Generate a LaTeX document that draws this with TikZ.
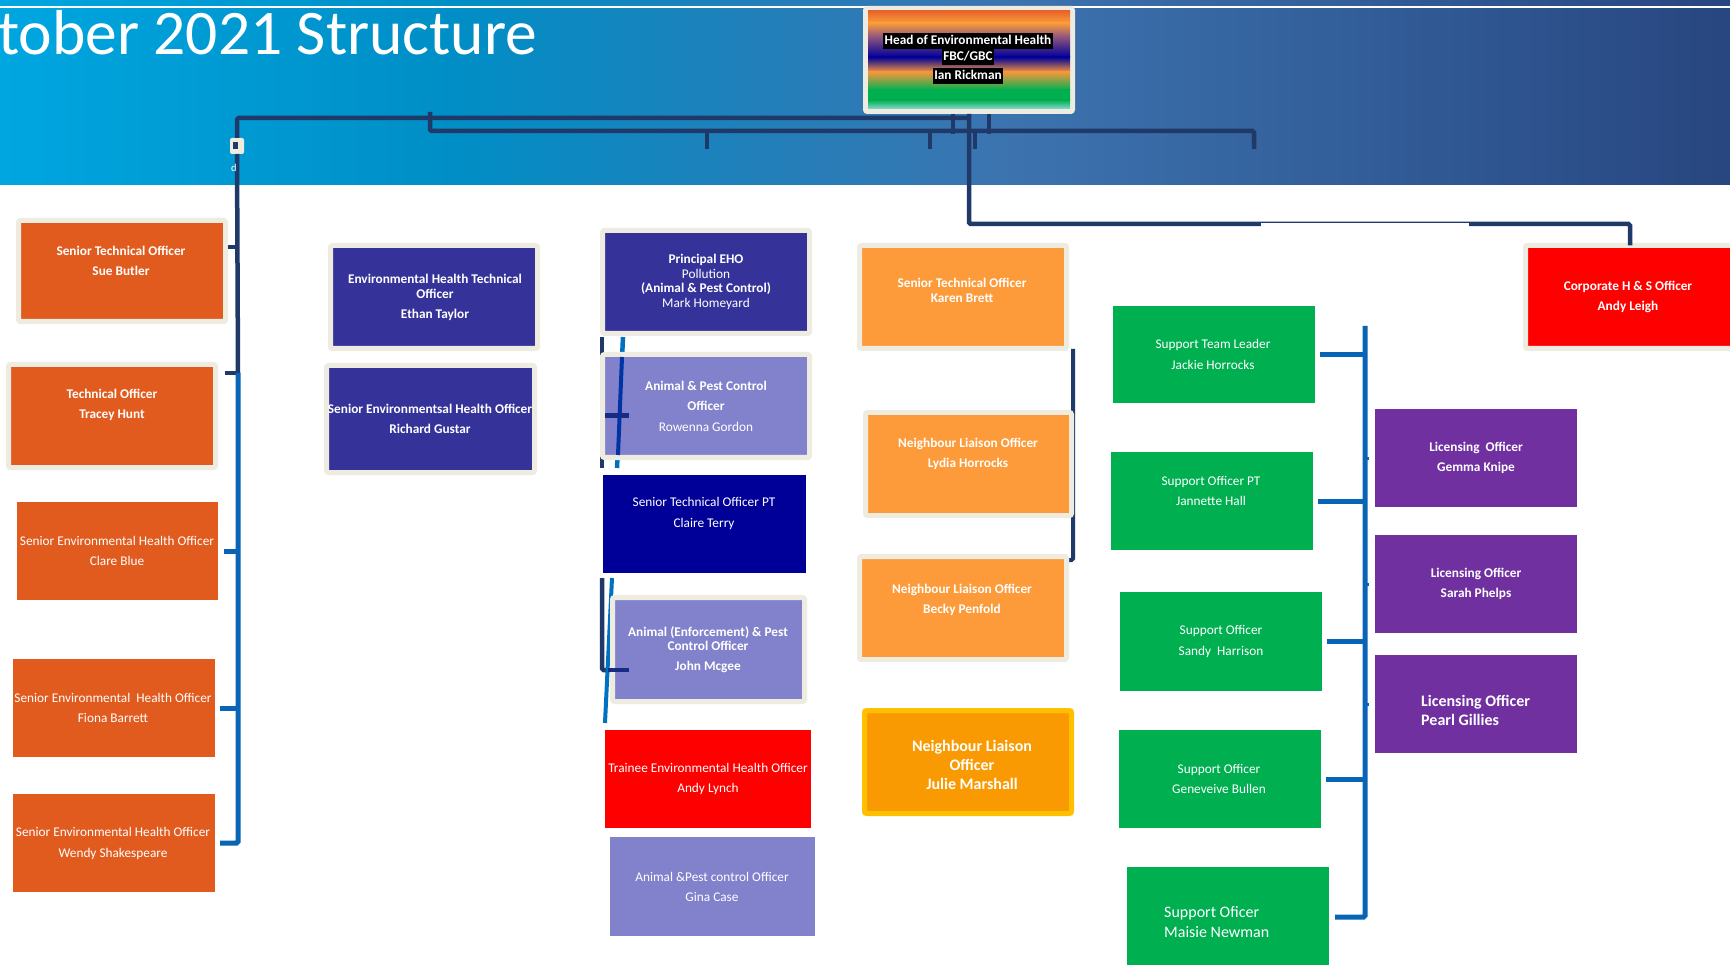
\documentclass[tikz,border=0pt]{standalone}
\usepackage{fontspec}
\setmainfont{Carlito}
\usepackage{tikz}
\usetikzlibrary{positioning,calc}

\definecolor{framec}{HTML}{EEECE1}
\definecolor{orgdark}{HTML}{E15B1F}
\definecolor{orglight}{HTML}{FD9A39}
\definecolor{orgjulie}{HTML}{FA9A02}
\definecolor{goldframe}{HTML}{FFC000}
\definecolor{indigo}{HTML}{35339A}
\definecolor{lavend}{HTML}{8282CC}
\definecolor{deepnavy}{HTML}{000099}
\definecolor{suppgreen}{HTML}{00B050}
\definecolor{licpurple}{HTML}{7030A0}
\definecolor{hsred}{HTML}{FF0000}
\definecolor{linenavy}{HTML}{1F3A68}
\definecolor{lineblue}{HTML}{0864B4}
\definecolor{midblue}{HTML}{0070C0}
\definecolor{deepblue}{HTML}{0033A3}
\definecolor{ticknavy}{HTML}{162C84}
\definecolor{hdA}{HTML}{00A6E0}
\definecolor{hdB}{HTML}{008EC6}
\definecolor{hdC}{HTML}{3C74B0}
\definecolor{hdD}{HTML}{284680}
\definecolor{rbA}{HTML}{E8642A}
\definecolor{rbB}{HTML}{F99B3A}
\definecolor{rbC}{HTML}{8E5480}
\definecolor{rbD}{HTML}{000096}
\definecolor{rbE}{HTML}{F5963C}
\definecolor{rbF}{HTML}{00B050}
\definecolor{rbG}{HTML}{88D8D0}

\newcommand{\postfont}{\fontsize{13.3}{14.8}\selectfont}
\newcommand{\postbigfont}{\fontsize{16}{19}\selectfont}

\tikzset{
  post/.style={inner sep=0pt, outer sep=0pt},
  framed/.style={draw=framec, line width=5pt, rounded corners=2pt},
  txt/.style={text=white, align=center, inner sep=0pt, font=\postfont},
  txtb/.style={txt, font=\postfont\bfseries},
  navyln/.style={draw=linenavy, line width=4.5pt},
  blueln/.style={draw=lineblue, line width=5pt},
  hdtag/.style={fill=black, text=white, inner xsep=1.5pt, inner ysep=0pt,
    text height=11.5pt, text depth=4.5pt, font=\postfont\bfseries}
}

\begin{document}
\begin{tikzpicture}[x=1pt, y=-1pt]
  \useasboundingbox (0,0) rectangle (1730,965);
  \fill[white] (0,0) rectangle (1730,965);

  % banner
  \shade[left color=hdA, right color=hdB] (0,0) rectangle (452,185);
  \shade[left color=hdB, right color=hdC] (450,0) rectangle (1002,185);
  \shade[left color=hdC, right color=hdD] (1000,0) rectangle (1730,185);
  \draw[white, line width=2pt] (0,7) -- (1730,7);
  \node[anchor=base west, inner sep=0pt, text=white, font=\fontsize{63.5}{64}\selectfont] (title) at (-2,55) {tober 2021 Structure};

  % head of service
  \node[post, framed, fill=rbC, minimum width=207pt, minimum height=103pt] (head) at (969,60) {};
  \foreach \ya/\ca/\yb/\cb in {11/rbA/23/rbB, 23/rbB/37/rbC, 37/rbC/57/rbD, 57/rbD/72/rbE, 72/rbE/90/rbF, 90/rbF/100/rbF, 100/rbF/109/rbG}
    \shade[top color=\ca, bottom color=\cb] (868,\ya) rectangle (1070,\yb);
  \node[hdtag] (hd1) at (968,41) {Head of Environmental Health};
  \node[hdtag] (hd2) at (968,57) {FBC/GBC};
  \node[hdtag] (hd3) at (968,76.5) {Ian Rickman};

  \node[post, fill=framec, rounded corners=2pt, minimum width=14pt, minimum height=16pt] (sq) at (237,146) {};
  \fill[linenavy] ([xshift=-4.5pt,yshift=-3.5pt]sq.center) rectangle ([xshift=0.5pt,yshift=3.5pt]sq.center);

  % connectors
  \draw[navyln, rounded corners=1.5pt] (sq.north) -- (237,118) -- (969,118);
  \draw[navyln, rounded corners=1.5pt] (430,112) -- (430,131) -- (1254,131) -- (1254,149);
  \foreach \x in {707,930,975} \draw[navyln] (\x,131) -- (\x,149);
  \draw[navyln] ([xshift=-16pt,yshift=-2.5pt]head.south) -- ++(0,20);
  \draw[navyln] ([xshift=20pt,yshift=-2.5pt]head.south) -- ++(0,20);
  \coordinate (hsdrop) at (969,224);
  \coordinate (hsin) at (1630,224);
  \node[post, framed, fill=hsred, minimum width=217pt, minimum height=103pt] (ah) at (1634,297) {};
  \draw[navyln, rounded corners=1.5pt] ([yshift=-2.5pt]head.south) -- (hsdrop) -- (hsin) -- (hsin |- ah.north);
  \fill[white] (1261,222.6) rectangle (1469,227);

  \coordinate (lbus) at (238,0);
  \draw[navyln] (sq.south) -- (238,373);
  \node[post, text=white, font=\fontsize{10.5}{10.5}\selectfont] (dlbl) at (234,168) {d};

  \coordinate (gbus) at (1365,0);
  \draw[navyln] (602,337) -- (602,468);
  \draw[draw=midblue, line width=4.5pt] (623,337) -- (617,468);
  \draw[navyln, rounded corners=1.5pt] (602,578) -- (602,670) -- (612,670);
  \draw[draw=midblue, line width=4pt] (612,578) -- (605,723);
  \draw[navyln, line width=4pt, rounded corners=1.5pt] (1073,349) -- (1073,560) -- (1068,560);

  % left column
  \node[post, framed, fill=orgdark, minimum width=207pt, minimum height=101pt] (sb) at (122,271) {};
  \node[txtb] (sb-t) at (121,261) {Senior Technical Officer\\[5pt]Sue Butler};
  \node[post, framed, fill=orgdark, minimum width=207pt, minimum height=103pt] (th) at (112,416) {};
  \node[txtb] (th-t) at (112,405) {Technical Officer\\[5pt]Tracey Hunt};
  \node[post, fill=orgdark, minimum width=201pt, minimum height=98pt] (cb) at (117.5,551) {};
  \node[txt] (cb-t) at (117,551) {Senior Environmental Health Officer\\[5pt]Clare Blue};
  \node[post, fill=orgdark, minimum width=202pt, minimum height=98pt] (fb) at (114,708) {};
  \node[txt] (fb-t) at (113,708) {Senior Environmental~ Health Officer\\[5pt]Fiona Barrett};
  \node[post, fill=orgdark, minimum width=202pt, minimum height=98pt] (ws) at (114,843) {};
  \node[txt] (ws-t) at (113,843.5) {Senior Environmental Health Officer\\[6pt]Wendy Shakespeare};

  \draw[navyln] ([xshift=2.5pt]sb.east |- 0,247) -- (lbus |- 0,247);
  \draw[navyln] ([xshift=9.5pt]th.east |- 0,373) -- (lbus |- 0,373);
  \draw[blueln, rounded corners=1.5pt] (238,373) -- (238,843) -- ([xshift=5pt]ws.east);
  \draw[blueln] ([xshift=6pt]cb.east) -- (cb.east -| lbus);
  \draw[blueln] ([xshift=5pt]fb.east) -- (fb.east -| lbus);

  % second column
  \node[post, framed, fill=indigo, minimum width=207pt, minimum height=103pt] (et) at (434,297) {};
  \node[txtb] (et-t) at (435,297.5) {Environmental Health Technical\\Officer\\[6pt]Ethan Taylor};
  \node[post, framed, fill=indigo, minimum width=208pt, minimum height=107pt] (rg) at (430.5,419) {};
  \node[txtb] (rg-t) at (430,419) {Senior Environmentsal Health Officer\\[5pt]Richard Gustar};

  % third column
  \node[post, framed, fill=indigo, minimum width=207pt, minimum height=103pt] (pe) at (706,282) {};
  \node[txt] (pe-t) at (706,282) {\textbf{Principal EHO}\\Pollution\\\textbf{(Animal \& Pest Control)}\\Mark Homeyard};
  \node[post, framed, fill=lavend, minimum width=207pt, minimum height=103pt] (rw) at (706,406) {};
  \node[txt] (rw-t) at (706,406.5) {\textbf{Animal \& Pest Control}\\[5pt]\textbf{Officer}\\[6pt]Rowenna Gordon};
  \node[post, fill=deepnavy, minimum width=203pt, minimum height=98pt] (ct) at (704.5,524) {};
  \node[txt] (ct-t) at (704,513.5) {Senior Technical Officer PT\\[6pt]Claire Terry};
  \node[post, framed, fill=lavend, minimum width=192pt, minimum height=104pt] (jm) at (708.5,649.5) {};
  \node[txtb] (jm-t) at (708,649.5) {Animal (Enforcement) \& Pest\\Control Officer\\[5pt]John Mcgee};
  \node[post, fill=hsred, minimum width=206pt, minimum height=98pt] (al) at (708,779) {};
  \node[txt] (al-t) at (708,779) {Trainee Environmental Health Officer\\[5pt]Andy Lynch};
  \node[post, fill=lavend, minimum width=205pt, minimum height=99pt] (gc) at (712.5,886.5) {};
  \node[txt] (gc-t) at (712,887) {Animal \&Pest control Officer\\[5pt]Gina Case};

  \draw[draw=deepblue, line width=4pt] (622,357) -- (618,455);
  \draw[draw=ticknavy, line width=5pt] (605,416) -- (629,416);
  \draw[draw=ticknavy, line width=4.5pt] (608,670) -- (629,670);

  % fourth column
  \node[post, framed, fill=orglight, minimum width=207pt, minimum height=103pt] (kb) at (963,297) {};
  \node[txtb] (kb-t) at (962,290.5) {Senior Technical Officer\\Karen Brett};
  \node[post, framed, fill=orglight, minimum width=206pt, minimum height=103pt] (lh) at (968.5,464) {};
  \node[txtb] (lh-t) at (968,454) {Neighbour Liaison Officer\\[5pt]Lydia Horrocks};
  \node[post, framed, fill=orglight, minimum width=207pt, minimum height=103pt] (bp) at (963,608) {};
  \node[txtb] (bp-t) at (962,600) {Neighbour Liaison Officer\\[5pt]Becky Penfold};
  \node[post, framed, draw=goldframe, fill=orgjulie, minimum width=207pt, minimum height=103pt] (jml) at (968,762) {};
  \node[txt, font=\postbigfont\bfseries] (jml-t) at (972,765) {Neighbour Liaison\\Officer\\Julie Marshall};

  % support team
  \node[post, fill=suppgreen, minimum width=202pt, minimum height=97pt] (jh) at (1214,354.5) {};
  \node[txt] (jh-t) at (1213,354.5) {Support Team Leader\\[6pt]Jackie Horrocks};
  \node[post, fill=suppgreen, minimum width=202pt, minimum height=98pt] (jha) at (1212,501) {};
  \node[txt] (jha-t) at (1211,491) {Support Officer PT\\[5pt]Jannette Hall};
  \node[post, fill=suppgreen, minimum width=202pt, minimum height=99pt] (sh) at (1221,641.5) {};
  \node[txt] (sh-t) at (1221,641.5) {Support Officer\\[6pt]Sandy~ Harrison};
  \node[post, fill=suppgreen, minimum width=202pt, minimum height=98pt] (gb) at (1220,779) {};
  \node[txt] (gb-t) at (1219,779) {Support Officer\\[5pt]Geneveive Bullen};
  \node[post, fill=suppgreen, minimum width=202pt, minimum height=100pt] (mn) at (1228,917) {};
  \node[txt, align=left, anchor=west, font=\fontsize{16}{20}\selectfont] (mn-t) at (1164,922) {Support Oficer\\Maisie Newman};

  \draw[blueln, rounded corners=1.5pt] (gbus |- 0,326) -- (gbus |- 0,917) -- ([xshift=6pt]mn.east);
  \foreach \n in {jh,jha,sh,gb}
    \draw[blueln] ([xshift=5pt]\n.east) -- (\n.east -| gbus);
  \foreach \y in {458,584,704}
    \draw[blueln, line width=3pt] (1365,\y) -- (1369,\y);

  % licensing
  \node[post, fill=licpurple, minimum width=202pt, minimum height=98pt] (gk) at (1476,458) {};
  \node[txtb] (gk-t) at (1476,458) {Licensing~ Officer\\[5pt]Gemma Knipe};
  \node[post, fill=licpurple, minimum width=202pt, minimum height=98pt] (sp) at (1476,584) {};
  \node[txtb] (sp-t) at (1476,584) {Licensing Officer\\[5pt]Sarah Phelps};
  \node[post, fill=licpurple, minimum width=202pt, minimum height=98pt] (pg) at (1476,704) {};
  \node[txt, align=left, anchor=west, font=\postbigfont\bfseries] (pg-t) at (1421,710.5) {Licensing Officer\\Pearl Gillies};

  % corporate
  \node[txtb] (ah-t) at (1628,297) {Corporate H \& S Officer\\[5pt]Andy Leigh};
\end{tikzpicture}
\end{document}
